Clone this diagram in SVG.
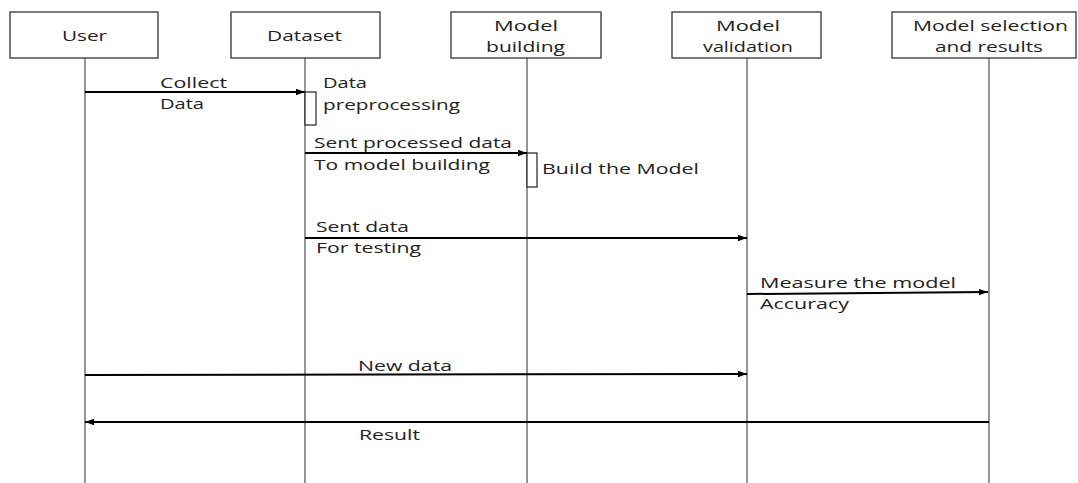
<svg xmlns="http://www.w3.org/2000/svg" width="1078" height="483" viewBox="0 0 1078 483">
<style>
.box{fill:#fff;stroke:#333;stroke-width:1.3}
.life{stroke:#7a7a7a;stroke-width:1.6;fill:none}
.msg{stroke:#000;stroke-width:2;fill:none}
.act{fill:#fff;stroke:#222;stroke-width:1.2}
text{font-family:"Open Sans","Noto Sans","DejaVu Sans",sans-serif;font-size:15px;fill:#222}
.c{text-anchor:middle}
</style>
<defs>
<marker id="ah" markerUnits="userSpaceOnUse" markerWidth="10" markerHeight="8" refX="9" refY="4" orient="auto">
<path d="M0,0.8 L9,4 L0,7.2 Z" fill="#000"/>
</marker>
</defs>
<g id="lifelines">
<line class="life" x1="85" y1="58" x2="85" y2="483"/>
<line class="life" x1="305" y1="58" x2="305" y2="483"/>
<line class="life" x1="527" y1="58" x2="527" y2="483"/>
<line class="life" x1="747" y1="58" x2="747" y2="483"/>
<line class="life" x1="989" y1="58" x2="989" y2="483"/>
</g>
<g id="user">
<rect class="box" x="10" y="12" width="148" height="46"/>
<text x="62" y="41" textLength="45" lengthAdjust="spacingAndGlyphs">User</text>
</g>
<g id="dataset">
<rect class="box" x="231" y="12" width="149" height="46"/>
<text x="267" y="41" textLength="75" lengthAdjust="spacingAndGlyphs">Dataset</text>
</g>
<g id="model-building">
<rect class="box" x="451" y="12" width="150" height="46"/>
<text x="494" y="31" textLength="64" lengthAdjust="spacingAndGlyphs">Model</text>
<text x="486" y="52" textLength="79" lengthAdjust="spacingAndGlyphs">building</text>
</g>
<g id="model-validation">
<rect class="box" x="672" y="12" width="149" height="46"/>
<text x="716" y="31" textLength="64" lengthAdjust="spacingAndGlyphs">Model</text>
<text x="703" y="52" textLength="90" lengthAdjust="spacingAndGlyphs">validation</text>
</g>
<g id="model-selection">
<rect class="box" x="892" y="12" width="184" height="46"/>
<text x="913" y="31" textLength="155" lengthAdjust="spacingAndGlyphs">Model selection</text>
<text x="935" y="52" textLength="108" lengthAdjust="spacingAndGlyphs">and results</text>
</g>
<g id="activations">
<rect class="act" x="305" y="92" width="11" height="33"/>
<rect class="act" x="527" y="153" width="10" height="34"/>
</g>
<g id="connectors">
<line class="msg" x1="85" y1="92" x2="305" y2="92" marker-end="url(#ah)"/>
<line class="msg" x1="305" y1="153" x2="527" y2="153" marker-end="url(#ah)"/>
<line class="msg" x1="305" y1="238" x2="747" y2="238" marker-end="url(#ah)"/>
<line class="msg" x1="747" y1="294" x2="988" y2="292" marker-end="url(#ah)"/>
<line class="msg" x1="85" y1="375" x2="747" y2="374" marker-end="url(#ah)"/>
<line class="msg" x1="989" y1="422" x2="85" y2="422" marker-end="url(#ah)"/>
</g>
<g id="labels">
<text x="160" y="88" textLength="67" lengthAdjust="spacingAndGlyphs">Collect</text>
<text x="160" y="109" textLength="44" lengthAdjust="spacingAndGlyphs">Data</text>
<text x="323" y="88" textLength="44" lengthAdjust="spacingAndGlyphs">Data</text>
<text x="323" y="110" textLength="137" lengthAdjust="spacingAndGlyphs">preprocessing</text>
<text x="314" y="148" textLength="198" lengthAdjust="spacingAndGlyphs">Sent processed data</text>
<text x="314" y="170" textLength="176" lengthAdjust="spacingAndGlyphs">To model building</text>
<text x="542" y="174" textLength="157" lengthAdjust="spacingAndGlyphs">Build the Model</text>
<text x="316" y="232" textLength="93" lengthAdjust="spacingAndGlyphs">Sent data</text>
<text x="316" y="253" textLength="105" lengthAdjust="spacingAndGlyphs">For testing</text>
<text x="760" y="288" textLength="196" lengthAdjust="spacingAndGlyphs">Measure the model</text>
<text x="760" y="309" textLength="89" lengthAdjust="spacingAndGlyphs">Accuracy</text>
<text x="358" y="371" textLength="94" lengthAdjust="spacingAndGlyphs">New data</text>
<text x="359" y="440" textLength="61" lengthAdjust="spacingAndGlyphs">Result</text>
</g>
</svg>
